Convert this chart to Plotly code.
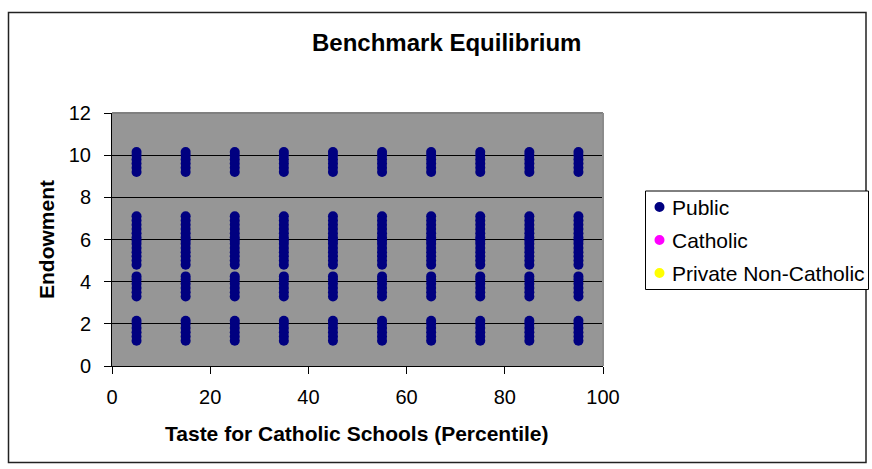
import plotly.graph_objects as go

# Series definitions
series_names = ["Public", "Catholic", "Private Non-Catholic"]
series_colors = ["#000080", "#FF00FF", "#FFFF00"]

# Taste percentiles (x) at which households are sampled
percentiles = [5, 15, 25, 35, 45, 55, 65, 75, 85, 95]

# Endowment levels observed at every percentile (all choose public school)
endowments = [
    1.2, 1.4, 1.6, 1.8, 2.0, 2.15,
    3.3, 3.5, 3.7, 3.9, 4.1, 4.25,
    4.8, 5.0, 5.2, 5.4, 5.6, 5.8, 5.95,
    6.1, 6.3, 6.5, 6.7, 6.9, 7.1,
    9.2, 9.4, 9.6, 9.8, 10.0, 10.15,
]

public_x = [p for p in percentiles for _ in endowments]
public_y = [e for _ in percentiles for e in endowments]
catholic_x, catholic_y = [], []
private_x, private_y = [], []

W, H = 872, 469
L, R, T, B = 112, 603, 113, 366  # plot area in pixels

def fx(px):
    return (px - L) / (R - L)

def fy(py):
    return (B - py) / (B - T)

FONT = "Liberation Sans, Arial, sans-serif"

fig = go.Figure()
for name, color, xs, ys in [
    (series_names[0], series_colors[0], public_x, public_y),
    (series_names[1], series_colors[1], catholic_x, catholic_y),
    (series_names[2], series_colors[2], private_x, private_y),
]:
    fig.add_trace(go.Scatter(
        x=xs, y=ys, mode="markers", name=name, showlegend=False,
        marker=dict(color=color, size=10, line=dict(width=0)),
    ))

fig.update_layout(
    width=W, height=H,
    margin=dict(l=L, r=W - R, t=T, b=H - B),
    paper_bgcolor="white",
    plot_bgcolor="#969696",
    font=dict(family=FONT, size=20, color="black"),
    showlegend=False,
)

fig.update_xaxes(
    range=[0, 100], tickvals=[0, 20, 40, 60, 80, 100],
    showgrid=False, zeroline=False,
    showline=True, linecolor="black", linewidth=1,
    ticks="outside", ticklen=7, tickcolor="black", tickwidth=1,
    tickfont=dict(family=FONT, size=20, color="black"),
    ticklabelstandoff=6,
)
fig.update_yaxes(
    range=[0, 12], tickvals=[0, 2, 4, 6, 8, 10, 12],
    showgrid=True, gridcolor="black", gridwidth=1, zeroline=False,
    showline=True, linecolor="black", linewidth=1,
    ticks="outside", ticklen=7, tickcolor="black", tickwidth=1,
    tickfont=dict(family=FONT, size=20, color="black"),
    ticklabelstandoff=9,
)

shapes = [
    # chart frame
    dict(type="rect", xref="paper", yref="paper",
         x0=fx(8.5), x1=fx(866), y0=fy(12.5), y1=fy(462.5),
         line=dict(color="#222222", width=1.5), layer="below"),
    # plot area frame (top and right edges)
    dict(type="line", xref="paper", yref="paper",
         x0=0, x1=1, y0=1, y1=1, line=dict(color="#808080", width=2), layer="above"),
    dict(type="line", xref="paper", yref="paper",
         x0=1, x1=1, y0=0, y1=1, line=dict(color="#8c8c8c", width=2), layer="above"),
    # legend box
    dict(type="rect", xref="paper", yref="paper",
         x0=fx(645.5), x1=fx(868.5), y0=fy(191), y1=fy(289.5),
         line=dict(color="black", width=1), fillcolor="white", layer="above"),
]

annotations = [
    dict(text="<b>Benchmark Equilibrium</b>", xref="paper", yref="paper",
         x=fx(446), y=fy(42.5), xanchor="center", yanchor="middle",
         showarrow=False, font=dict(family=FONT, size=24, color="black")),
    dict(text="<b>Taste for Catholic Schools (Percentile)</b>", xref="paper", yref="paper",
         x=fx(357), y=fy(433), xanchor="center", yanchor="middle",
         showarrow=False, font=dict(family=FONT, size=21, color="black")),
    dict(text="<b>Endowment</b>", xref="paper", yref="paper",
         x=fx(46), y=fy(240), xanchor="center", yanchor="middle", textangle=-90,
         showarrow=False, font=dict(family=FONT, size=21, color="black")),
]

legend_rows = [207, 240, 273]
for name, color, cy in zip(series_names, series_colors, legend_rows):
    shapes.append(dict(type="circle", xref="paper", yref="paper",
                       xsizemode="pixel", ysizemode="pixel",
                       xanchor=fx(659.5), yanchor=fy(cy),
                       x0=-5, x1=5, y0=-5, y1=5,
                       fillcolor=color, line=dict(width=0), layer="above"))
    annotations.append(dict(text=name, xref="paper", yref="paper",
                            x=fx(670), y=fy(cy), xanchor="left", yanchor="middle",
                            showarrow=False,
                            font=dict(family=FONT, size=21, color="black")))

fig.update_layout(shapes=shapes, annotations=annotations)

fig.write_html("out.html")
